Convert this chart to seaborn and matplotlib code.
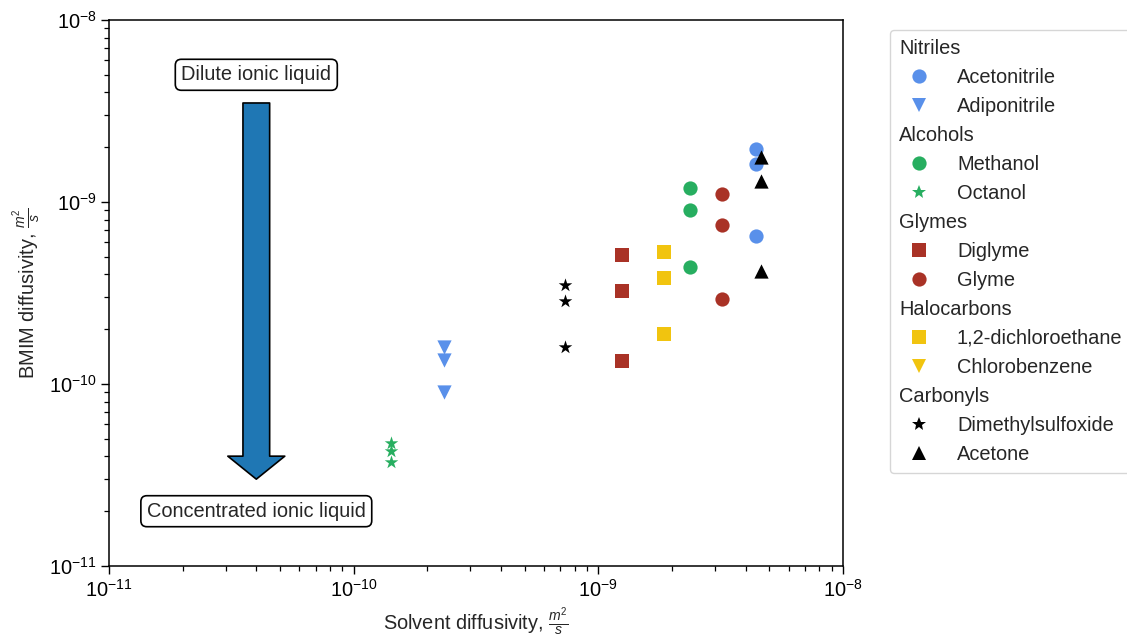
import matplotlib
matplotlib.use("Agg")
import matplotlib.pyplot as plt
from matplotlib.lines import Line2D
from matplotlib.patches import FancyArrowPatch, ArrowStyle
import seaborn as sns
import pandas as pd

# Solvent diffusivity (x) and BMIM diffusivity (y), m^2/s
acetonitrile_x = [4.42e-9, 4.42e-9, 4.42e-9]
acetonitrile_y = [1.95e-9, 1.62e-9, 6.5e-10]
adiponitrile_x = [2.33e-10, 2.33e-10, 2.33e-10]
adiponitrile_y = [1.60e-10, 1.35e-10, 9.0e-11]
methanol_x = [2.37e-9, 2.37e-9, 2.37e-9]
methanol_y = [1.19e-9, 9.0e-10, 4.4e-10]
octanol_x = [1.42e-10, 1.42e-10, 1.42e-10]
octanol_y = [4.72e-11, 4.28e-11, 3.73e-11]
diglyme_x = [1.25e-9, 1.25e-9, 1.25e-9]
diglyme_y = [5.1e-10, 3.24e-10, 1.33e-10]
glyme_x = [3.19e-9, 3.19e-9, 3.19e-9]
glyme_y = [1.10e-9, 7.5e-10, 2.93e-10]
dichloroethane_x = [1.85e-9, 1.85e-9, 1.85e-9]
dichloroethane_y = [5.3e-10, 3.8e-10, 1.89e-10]
chlorobenzene_x = []
chlorobenzene_y = []
dmso_x = [7.33e-10, 7.33e-10, 7.33e-10]
dmso_y = [3.5e-10, 2.85e-10, 1.6e-10]
acetone_x = [4.63e-9, 4.63e-9, 4.63e-9]
acetone_y = [1.76e-9, 1.30e-9, 4.17e-10]

BLUE, GREEN, RED, YELLOW, BLACK = "#5990EA", "#27AE60", "#A93226", "#F1C40F", "#000000"

groups = [
    ("Nitriles", [("Acetonitrile", acetonitrile_x, acetonitrile_y, BLUE, "o"),
                  ("Adiponitrile", adiponitrile_x, adiponitrile_y, BLUE, "v")]),
    ("Alcohols", [("Methanol", methanol_x, methanol_y, GREEN, "o"),
                  ("Octanol", octanol_x, octanol_y, GREEN, "*")]),
    ("Glymes", [("Diglyme", diglyme_x, diglyme_y, RED, "s"),
                ("Glyme", glyme_x, glyme_y, RED, "o")]),
    ("Halocarbons", [("1,2-dichloroethane", dichloroethane_x, dichloroethane_y, YELLOW, "s"),
                     ("Chlorobenzene", chlorobenzene_x, chlorobenzene_y, YELLOW, "v")]),
    ("Carbonyls", [("Dimethylsulfoxide", dmso_x, dmso_y, BLACK, "*"),
                   ("Acetone", acetone_x, acetone_y, BLACK, "^")]),
]

sns.set_theme(style="ticks")
FS = 14.4
plt.rcParams.update({
    "font.family": ["Liberation Sans", "DejaVu Sans"],
    "font.size": FS,
    "mathtext.fontset": "custom",
    "mathtext.rm": "Liberation Sans",
    "mathtext.it": "Liberation Sans:italic",
    "axes.linewidth": 1.1,
    "axes.edgecolor": "black",
    "xtick.color": "black",
    "ytick.color": "black",
    "xtick.major.size": 5.5,
    "ytick.major.size": 5.5,
    "xtick.minor.size": 3.5,
    "ytick.minor.size": 3.5,
    "xtick.major.width": 1.0,
    "ytick.major.width": 1.0,
    "xtick.minor.width": 0.9,
    "ytick.minor.width": 0.9,
})

fig = plt.figure(figsize=(11.27, 6.36), dpi=100)
ax = fig.add_axes([109 / 1127, 1 - 566 / 636, (843 - 109) / 1127, (566 - 20) / 636])

MS = 105
handles, labels = [], []
for header, members in groups:
    handles.append(Line2D([], [], linestyle="none", marker=None))
    labels.append(header)
    for name, xs, ys, color, marker in members:
        if xs:
            df = pd.DataFrame({"solvent": xs, "bmim": ys})
            sns.scatterplot(data=df, x="solvent", y="bmim", ax=ax, color=color,
                            marker=marker, s=MS, linewidth=0, legend=False)
        handles.append(Line2D([], [], linestyle="none", marker=marker, color=color,
                              markersize=MS ** 0.5, markeredgewidth=0))
        labels.append(name)

ax.set_xscale("log")
ax.set_yscale("log")
ax.set_xlim(1e-11, 1e-8)
ax.set_ylim(1e-11, 1e-8)
ax.set_xlabel(r"Solvent diffusivity, $\frac{m^2}{s}$", fontsize=FS)
ax.set_ylabel(r"BMIM diffusivity, $\frac{m^2}{s}$", fontsize=FS)
ax.tick_params(axis="both", which="major", labelsize=FS)

# Concentration arrow with its two end labels
arrow_x = 4e-11
arrow = FancyArrowPatch(
    posA=(arrow_x, 3.5e-9), posB=(arrow_x, 3.0e-11),
    arrowstyle=ArrowStyle.Simple(head_length=23 / 1.389, head_width=57 / 1.389,
                                 tail_width=26.7 / 1.389),
    mutation_scale=1, shrinkA=0, shrinkB=0,
    facecolor="#1f77b4", edgecolor="black", linewidth=1.2, zorder=3)
ax.add_patch(arrow)
box = dict(boxstyle="round,pad=0.3", facecolor="white", edgecolor="black", linewidth=1.2)
ax.text(arrow_x, 5e-9, "Dilute ionic liquid", ha="center", va="center", fontsize=FS, bbox=box)
ax.text(arrow_x, 2e-11, "Concentrated ionic liquid", ha="center", va="center", fontsize=FS, bbox=box)

hl, htp = 2.0, 0.9
leg = fig.legend(handles, labels, loc="upper left",
                 bbox_to_anchor=(890 / 1127, 1 - 30 / 636), bbox_transform=fig.transFigure,
                 borderaxespad=0, fontsize=FS, handlelength=hl, handletextpad=htp,
                 borderpad=0.45, labelspacing=0.5, numpoints=1, frameon=True)
# Group headers start where the marker column begins
shift = (hl + htp) * FS * fig.dpi / 72
header_names = {g[0] for g in groups}
for t in leg.get_texts():
    if t.get_text() in header_names:
        t.set_position((-shift, 0))

fig.savefig("out.png", dpi=100)
